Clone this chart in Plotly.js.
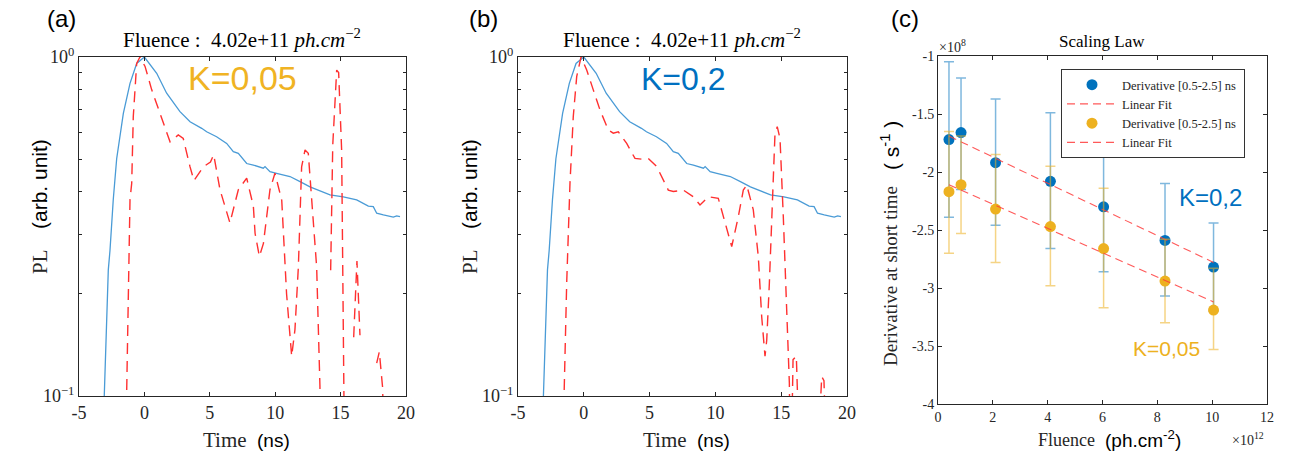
<!DOCTYPE html>
<html>
<head>
<meta charset="utf-8">
<script src="https://cdn.plot.ly/plotly-3.0.1.min.js"></script>
<style>html,body{margin:0;padding:0;background:#fff;}#chart{width:1294px;height:456px;}</style>
</head>
<body>
<div id="chart"></div>
<script>
// ---------- DATA ----------
// Measured PL (blue, same in panels a and b)
const timeMeas = [-3.15, -3.07, -2.76, -2.63, -2.38, -2.12, -1.61, -1.10, -0.59, 0.0, 0.94, 1.70, 2.72, 3.49, 4.12, 4.38, 4.76, 5.52, 6.29, 6.80, 7.18, 7.82, 8.33, 9.09, 9.22, 9.60, 10.11, 11.13, 11.90, 12.66, 14.19, 15.21, 16.23, 17.12, 17.5, 17.76, 18.27, 19.03, 19.29, 19.54];
const plMeas = [0.08, 0.1, 0.2355, 0.269, 0.380, 0.501, 0.682, 0.836, 0.957, 1.0, 0.895, 0.782, 0.690, 0.644, 0.626, 0.616, 0.602, 0.582, 0.556, 0.526, 0.520, 0.485, 0.480, 0.470, 0.475, 0.459, 0.454, 0.444, 0.429, 0.414, 0.392, 0.387, 0.379, 0.363, 0.362, 0.346, 0.342, 0.337, 0.340, 0.338];

// Simulated PL, K = 0.05 (panel a, red dashed)
const timeSimA = [-1.45, -1.36, -1.10, -0.97, -0.85, -0.59, -0.34, 0.05, 0.56, 1.19, 1.58, 1.96, 2.59, 2.97, 3.49, 3.79, 4.5, 5.05, 5.3, 5.78, 6.54, 7.18, 7.82, 8.33, 8.46, 8.79, 9.1, 9.6, 9.98, 10.5, 10.87, 11.26, 11.51, 11.77, 12.02, 12.28, 12.53, 12.91, 13.17, 13.42, 13.55, 13.8, 14.24, 14.4, 14.7, 14.85, 15.08, 15.2, 15.28, 15.35, 15.6, 16.0, 16.25, 16.48, 16.6, 17.76, 17.96, 18.22, 18.3, 18.5];
const plSimA = [0.05, 0.1, 0.380, 0.424, 0.667, 0.957, 1.0, 0.938, 0.800, 0.682, 0.610, 0.562, 0.589, 0.575, 0.474, 0.432, 0.474, 0.49, 0.515, 0.406, 0.324, 0.406, 0.439, 0.363, 0.302, 0.258, 0.282, 0.406, 0.454, 0.378, 0.200, 0.131, 0.157, 0.240, 0.474, 0.532, 0.520, 0.338, 0.240, 0.107, 0.04, null, 0.235, 0.55, 0.915, 0.90, 0.53, 0.19, 0.105, 0.04, null, 0.149, 0.25, 0.151, null, 0.125, 0.135, 0.105, 0.05, null];

// Simulated PL, K = 0.2 (panel b, red dashed)
const timeSimB = [-1.6, -1.50, -1.30, -1.05, -0.80, -0.54, -0.21, 0.22, 0.72, 1.23, 1.86, 2.24, 2.62, 3.26, 3.89, 4.52, 4.90, 5.54, 6.42, 6.80, 7.56, 8.32, 8.83, 9.46, 10.22, 10.73, 11.24, 11.74, 12.12, 12.38, 12.88, 13.26, 13.52, 13.77, 13.90, 14.10, 14.35, 14.53, 14.70, 14.91, 15.16, 15.42, 15.62, 15.72, 15.9, 16.15, 16.28, 16.4, 17.95, 18.08, 18.25, 18.32, 18.4];
const plSimB = [0.05, 0.1, 0.215, 0.424, 0.667, 0.875, 1.0, 0.916, 0.800, 0.698, 0.609, 0.596, 0.602, 0.556, 0.502, 0.499, 0.502, 0.475, 0.405, 0.401, 0.405, 0.387, 0.366, 0.387, 0.383, 0.323, 0.276, 0.338, 0.405, 0.419, 0.354, 0.258, 0.171, 0.131, 0.146, 0.215, 0.379, 0.596, 0.623, 0.575, 0.338, 0.171, 0.109, 0.05, 0.128, 0.131, 0.09, null, 0.09, 0.114, 0.111, 0.09, null];

// Scaling law (panel c), fluence in 1e12 ph.cm-2, derivative in 1e8 s-1
const fluence = [0.4, 0.84, 2.1, 4.1, 6.04, 8.28, 10.05];
const derivK02 = [-1.72, -1.66, -1.92, -2.08, -2.30, -2.59, -2.82];
const errK02Plus = [0.67, 0.47, 0.55, 0.59, 0.56, 0.49, 0.38];
const errK02Minus = [0.67, 0.49, 0.54, 0.58, 0.56, 0.48, 0.38];
const derivK005 = [-2.17, -2.11, -2.32, -2.47, -2.66, -2.94, -3.19];
const errK005Plus = [0.52, 0.42, 0.47, 0.52, 0.52, 0.36, 0.36];
const errK005Minus = [0.53, 0.42, 0.46, 0.51, 0.51, 0.36, 0.34];
const fitFluence = [0.4, 10.05];
const fitK02 = [-1.69, -2.78];
const fitK005 = [-2.11, -3.12];

// Tick labels
const timeTicks = [-5, 0, 5, 10, 15, 20];
const timeTickText = ['-5', '0', '5', '10', '15', '20'];
const plTicks = [0.1, 1];
const plTickText = ['10<sup>−1</sup>', '10<sup>0</sup>'];
const plMinor = [0.2, 0.3, 0.4, 0.5, 0.6, 0.7, 0.8, 0.9];
const fluTicks = [0, 2, 4, 6, 8, 10, 12];
const derTicks = [-4, -3.5, -3, -2.5, -2, -1.5, -1];
const derTickText = ['-4', '-3.5', '-3', '-2.5', '-2', '-1.5', '-1'];

// ---------- STYLE ----------
const W = 1294, H = 456;
const SERIF = 'Liberation Serif, Times New Roman, serif';
const SANS = 'Liberation Sans, Arial, sans-serif';
const AX = '#262626';
const BLUE_LINE = '#4a9bd6';
const RED = '#ff3030';
const MBLUE = '#0072BD';
const MYEL = '#EDB120';

function px2x(p) { return p / W; }
function py2y(p) { return 1 - p / H; }

const traces = [
  {x: timeMeas, y: plMeas, xaxis: 'x', yaxis: 'y', mode: 'lines', line: {color: BLUE_LINE, width: 1.3}, showlegend: false, hoverinfo: 'skip'},
  {x: timeSimA, y: plSimA, xaxis: 'x', yaxis: 'y', mode: 'lines', connectgaps: false, line: {color: RED, width: 1.4, dash: '11px,7px'}, showlegend: false, hoverinfo: 'skip'},
  {x: timeMeas, y: plMeas, xaxis: 'x2', yaxis: 'y2', mode: 'lines', line: {color: BLUE_LINE, width: 1.3}, showlegend: false, hoverinfo: 'skip'},
  {x: timeSimB, y: plSimB, xaxis: 'x2', yaxis: 'y2', mode: 'lines', connectgaps: false, line: {color: RED, width: 1.4, dash: '11px,7px'}, showlegend: false, hoverinfo: 'skip'},
  {x: fluence, y: derivK02, xaxis: 'x3', yaxis: 'y3', mode: 'markers', name: 'Derivative [0.5-2.5] ns',
   marker: {color: MBLUE, size: 11},
   error_y: {type: 'data', symmetric: false, array: errK02Plus, arrayminus: errK02Minus, color: 'rgba(0,114,189,0.5)', thickness: 1.5, width: 5}},
  {x: fitFluence, y: fitK02, xaxis: 'x3', yaxis: 'y3', mode: 'lines', name: 'Linear Fit', line: {color: 'rgba(255,60,60,0.85)', width: 1.1, dash: '8px,5px'}},
  {x: fluence, y: derivK005, xaxis: 'x3', yaxis: 'y3', mode: 'markers', name: 'Derivative [0.5-2.5] ns ',
   marker: {color: MYEL, size: 11},
   error_y: {type: 'data', symmetric: false, array: errK005Plus, arrayminus: errK005Minus, color: 'rgba(237,177,32,0.55)', thickness: 1.5, width: 5}},
  {x: fitFluence, y: fitK005, xaxis: 'x3', yaxis: 'y3', mode: 'lines', name: 'Linear Fit ', line: {color: 'rgba(255,60,60,0.85)', width: 1.1, dash: '8px,5px'}}
];

function timeAxis(domain, anchor) {
  return {domain: domain, anchor: anchor, range: [-5, 20], tickvals: timeTicks, ticktext: timeTickText,
    ticks: 'inside', ticklen: 4, tickcolor: AX, mirror: 'ticks', showline: true, linecolor: AX, linewidth: 1,
    showgrid: false, zeroline: false, tickfont: {family: SERIF, size: 18, color: AX}};
}
function plAxis(domain, anchor) {
  return {domain: domain, anchor: anchor, type: 'log', range: [-1, 0], tickvals: plTicks, ticktext: plTickText,
    ticks: 'inside', ticklen: 5, tickcolor: AX, mirror: 'ticks', showline: true, linecolor: AX, linewidth: 1,
    showgrid: false, zeroline: false, tickfont: {family: SERIF, size: 18, color: AX},
    minor: {tickvals: plMinor, ticks: 'inside', ticklen: 3, tickcolor: AX, showgrid: false}};
}

const yDomAB = [py2y(396), py2y(57)];
const layout = {
  width: W, height: H, margin: {l: 0, r: 0, t: 0, b: 0},
  paper_bgcolor: '#fff', plot_bgcolor: '#fff', showlegend: true,
  xaxis: timeAxis([px2x(79), px2x(406)], 'y'),
  yaxis: plAxis(yDomAB, 'x'),
  xaxis2: timeAxis([px2x(518), px2x(847)], 'y2'),
  yaxis2: plAxis(yDomAB, 'x2'),
  xaxis3: {domain: [px2x(938), px2x(1267)], anchor: 'y3', range: [0, 12], tickvals: fluTicks,
    ticks: 'inside', ticklen: 4, tickcolor: AX, mirror: 'ticks', showline: true, linecolor: AX, linewidth: 1,
    showgrid: false, zeroline: false, tickfont: {family: SERIF, size: 14, color: AX}},
  yaxis3: {domain: [py2y(404), py2y(56)], anchor: 'x3', range: [-4, -1], tickvals: derTicks, ticktext: derTickText,
    ticks: 'inside', ticklen: 4, tickcolor: AX, mirror: 'ticks', showline: true, linecolor: AX, linewidth: 1,
    showgrid: false, zeroline: false, tickfont: {family: SERIF, size: 14, color: AX}},
  legend: {x: px2x(1061), y: py2y(69), xanchor: 'left', yanchor: 'top', bgcolor: '#fff', bordercolor: '#333', borderwidth: 1,
    font: {family: SERIF, size: 12.5, color: AX}, tracegroupgap: 0, itemwidth: 50},
  annotations: []
};

function ann(text, x, y, size, family, color, angle, xanchor) {
  layout.annotations.push({text: text, x: px2x(x), y: py2y(y), xref: 'paper', yref: 'paper', showarrow: false,
    xanchor: xanchor || 'center', yanchor: 'middle', textangle: angle || 0, font: {family: family, size: size, color: color}});
}

// panel letters
ann('(a)', 61, 18, 24, SANS, '#000');
ann('(b)', 483, 18, 24, SANS, '#000');
ann('(c)', 905, 18, 24, SANS, '#000');
// titles
ann('Fluence :  4.02e+11 <i>ph.cm</i><sup>−2</sup>', 242, 39, 21, SERIF, '#000');
ann('Fluence :  4.02e+11 <i>ph.cm</i><sup>−2</sup>', 682, 39, 21, SERIF, '#000');
ann('Scaling Law', 1102, 42, 17, SERIF, '#000');
// K labels
ann('K=0,05', 243, 78, 34, SANS, '#F0B323');
ann('K=0,2', 683, 79, 32, SANS, '#0070C0');
ann('K=0,2', 1210, 197, 24, SANS, '#0070C0');
ann('K=0,05', 1166, 348, 21, SANS, '#EDB120');
// axis labels a
ann('Time', 225, 440, 21, SERIF, AX);
ann('(ns)', 273, 440, 19, SANS, '#000');
ann('PL', 40, 262, 21, SERIF, AX, -90);
ann('(arb. unit)', 40, 184, 21, SANS, '#000', -90);
// axis labels b
ann('Time', 665, 440, 21, SERIF, AX);
ann('(ns)', 713, 440, 19, SANS, '#000');
ann('PL', 470, 262, 21, SERIF, AX, -90);
ann('(arb. unit)', 470, 184, 21, SANS, '#000', -90);
// axis labels c
ann('Fluence', 1066, 440, 18, SERIF, AX);
ann('(ph.cm<sup>-2</sup>)', 1143, 439, 19, SANS, '#000');
ann('Derivative at short time', 890, 276, 19, SERIF, AX, -90);
ann('( s<sup>-1</sup> )', 890, 146, 21, SANS, '#000', -90);
ann('×10<sup>8</sup>', 952, 46, 14, SERIF, AX);
ann('×10<sup>12</sup>', 1248, 439, 14, SERIF, AX);

Plotly.newPlot('chart', traces, layout, {displayModeBar: false, staticPlot: true});
</script>
</body>
</html>
